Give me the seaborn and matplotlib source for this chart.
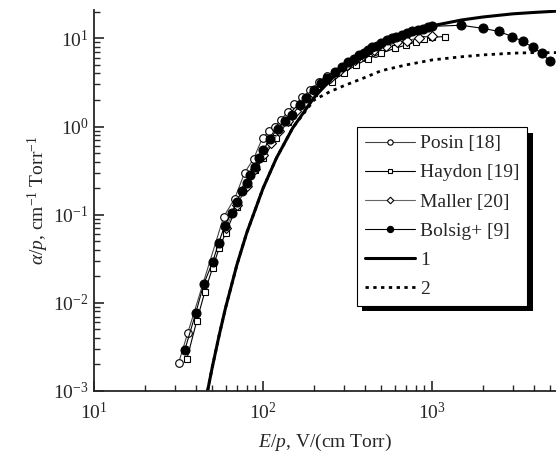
import numpy as np
import pandas as pd
import matplotlib
matplotlib.use("Agg")
import matplotlib.pyplot as plt
import matplotlib.patheffects as pe
from matplotlib.ticker import LogLocator, LogFormatterSciNotation, NullFormatter
import seaborn as sns

sns.set_style("ticks")
plt.rcParams["font.family"] = ["Liberation Serif", "DejaVu Serif"]
plt.rcParams["mathtext.fontset"] = "custom"
plt.rcParams["mathtext.rm"] = "Liberation Serif"
plt.rcParams["mathtext.it"] = "Liberation Serif:italic"
plt.rcParams["mathtext.bf"] = "Liberation Serif:bold"

# ---- data (E/p in V/(cm Torr), alpha/p in 1/(cm Torr)) ----
posin_x = [31.7, 35.9, 58.5, 67.9, 77.8, 87.9, 99.3, 109, 117, 128, 140, 153, 171,
           190, 215, 240, 272, 310, 350, 400, 460]
posin_y = [0.0021, 0.0046, 0.095, 0.152, 0.30, 0.43, 0.75, 0.88, 1.0, 1.2, 1.48, 1.78,
           2.14, 2.6, 3.2, 3.7, 4.2, 4.9, 5.5, 6.2, 6.9]

haydon_x = [35.4, 40.5, 45.2, 50.3, 55, 60.1, 69.8, 80, 90, 100, 120, 140, 170, 200,
            257, 300, 356, 420, 500, 600, 700, 800, 900, 1000, 1194]
haydon_y = [0.0023, 0.0062, 0.0133, 0.025, 0.042, 0.062, 0.123, 0.22, 0.32, 0.44, 0.75,
            1.14, 1.8, 2.4, 3.24, 4.1, 5.0, 5.9, 6.8, 7.7, 8.4, 9.1, 9.8, 10.3, 10.5]

maller_x = [60, 70, 80, 90, 100, 112, 125, 140, 157, 176, 197, 222, 250, 280, 315, 350,
            397, 455, 536, 622, 713, 838, 1000]
maller_y = [0.07, 0.13, 0.21, 0.33, 0.47, 0.65, 0.88, 1.15, 1.5, 1.9, 2.4, 3.0, 3.6, 4.3,
            5.0, 5.7, 6.6, 7.4, 8.2, 9.0, 9.4, 10.2, 10.6]

bolsig_x = [34.4, 40, 44.6, 50.3, 54.6, 59.3, 65.2, 69.8, 74.7, 80, 84, 89, 95, 100, 110,
            122, 135, 149, 165, 180, 201, 220, 240, 265, 294, 320, 347, 370, 397, 420,
            443, 470, 500, 543, 580, 614, 660, 710, 760, 820, 880, 940, 1000, 1483, 1995,
            2483, 2968, 3443, 3946, 4456, 4970]
bolsig_y = [0.0029, 0.0077, 0.0164, 0.029, 0.048, 0.075, 0.105, 0.14, 0.185, 0.23, 0.285,
            0.35, 0.44, 0.54, 0.72, 0.95, 1.15, 1.37, 1.75, 2.1, 2.6, 3.1, 3.6, 4.2, 4.8,
            5.4, 5.9, 6.4, 6.9, 7.4, 7.9, 8.3, 8.8, 9.5, 10.0, 10.5, 11.0, 11.5, 12.0,
            12.5, 12.9, 13.3, 13.7, 14.1, 13.0, 12.0, 10.5, 9.25, 7.9, 6.76, 5.48]

curve1_x = [47, 50, 55, 60, 70, 80, 100, 120, 150, 200, 250, 300, 400, 500, 700, 1000,
            1500, 2000, 3000, 4000, 5500]
curve1_y = [0.00101, 0.00184, 0.0043, 0.0088, 0.027, 0.062, 0.20, 0.44, 0.97, 2.12, 3.39,
            4.63, 6.86, 8.67, 11.35, 13.9, 16.2, 17.5, 19.0, 19.7, 20.4]

curve2_x = [47, 50, 55, 60, 70, 80, 100, 120, 150, 200, 250, 300, 400, 500, 700, 1000,
            1500, 2000, 3000, 4000, 5500]
curve2_y = [0.00101, 0.00184, 0.0043, 0.0088, 0.027, 0.062, 0.20, 0.44, 0.97, 2.0, 2.5,
            2.9, 3.6, 4.3, 5.0, 5.7, 6.2, 6.5, 6.8, 6.9, 6.9]

fig = plt.figure(figsize=(5.56, 4.63), dpi=100)
ax = fig.add_axes([94/556, 1-391/463, 462/556, 381/463])

def draw(xs, ys, label, **kw):
    d = pd.DataFrame({"x": xs, "y": ys})
    sns.lineplot(data=d, x="x", y="y", ax=ax, label=label, estimator=None, sort=True, **kw)

draw(posin_x, posin_y, "Posin [18]", color="#444444", lw=0.8, marker="o", markersize=5.5,
     markerfacecolor="white", markeredgecolor="black", markeredgewidth=0.8)
draw(haydon_x, haydon_y, "Haydon [19]", color="black", lw=0.8, marker="s", markersize=4.5,
     markerfacecolor="white", markeredgecolor="black", markeredgewidth=0.8)
draw(maller_x, maller_y, "Maller [20]", color="#666666", lw=0.8, marker="D", markersize=4.8,
     markerfacecolor="white", markeredgecolor="black", markeredgewidth=0.8)
draw(bolsig_x, bolsig_y, "Bolsig+ [9]", color="black", lw=0.8, marker="o", markersize=6.5,
     markerfacecolor="black", markeredgecolor="black")
draw(curve1_x, curve1_y, "1", color="black", lw=2.2)
draw(curve2_x, curve2_y, "2", color="black", lw=2.0, linestyle=(0, (1.2, 1.6)))

ax.set_xscale("log")
ax.set_yscale("log")
ax.set_xlim(10, 5400)
ax.set_ylim(1e-3, 21)

for a in (ax.xaxis, ax.yaxis):
    a.set_major_locator(LogLocator(base=10))
    a.set_minor_locator(LogLocator(base=10, subs=np.arange(2, 10)))
    a.set_major_formatter(LogFormatterSciNotation())
    a.set_minor_formatter(NullFormatter())
ax.tick_params(which="major", direction="in", length=7, width=1.2, labelsize=14, pad=8)
ax.tick_params(which="minor", direction="in", length=4, width=1.0)
ax.tick_params(axis="y", pad=4)
for s in ("top", "right"):
    ax.spines[s].set_visible(False)
for s in ("left", "bottom"):
    ax.spines[s].set_linewidth(1.3)

ax.set_xlabel(r"$E/p$, V/(cm Torr)", fontsize=14, labelpad=6)
ax.set_ylabel(r"$\alpha/p$, cm$^{-1}$ Torr$^{-1}$", fontsize=14, labelpad=1)

leg = ax.legend(loc="upper left", bbox_to_anchor=(0.569, 0.693), borderaxespad=0,
                fontsize=14, frameon=True, fancybox=False, edgecolor="black",
                handlelength=2.6, handletextpad=0.25, labelspacing=0.59, borderpad=0.4,
                markerscale=0.7)
leg.get_frame().set_linewidth(0.8)
leg.get_frame().set_alpha(1)
leg.get_frame().set_path_effects([pe.SimplePatchShadow(offset=(4, -4), shadow_rgbFace="black",
                                                       alpha=1.0), pe.Normal()])

fig.savefig("out.png", dpi=100)
